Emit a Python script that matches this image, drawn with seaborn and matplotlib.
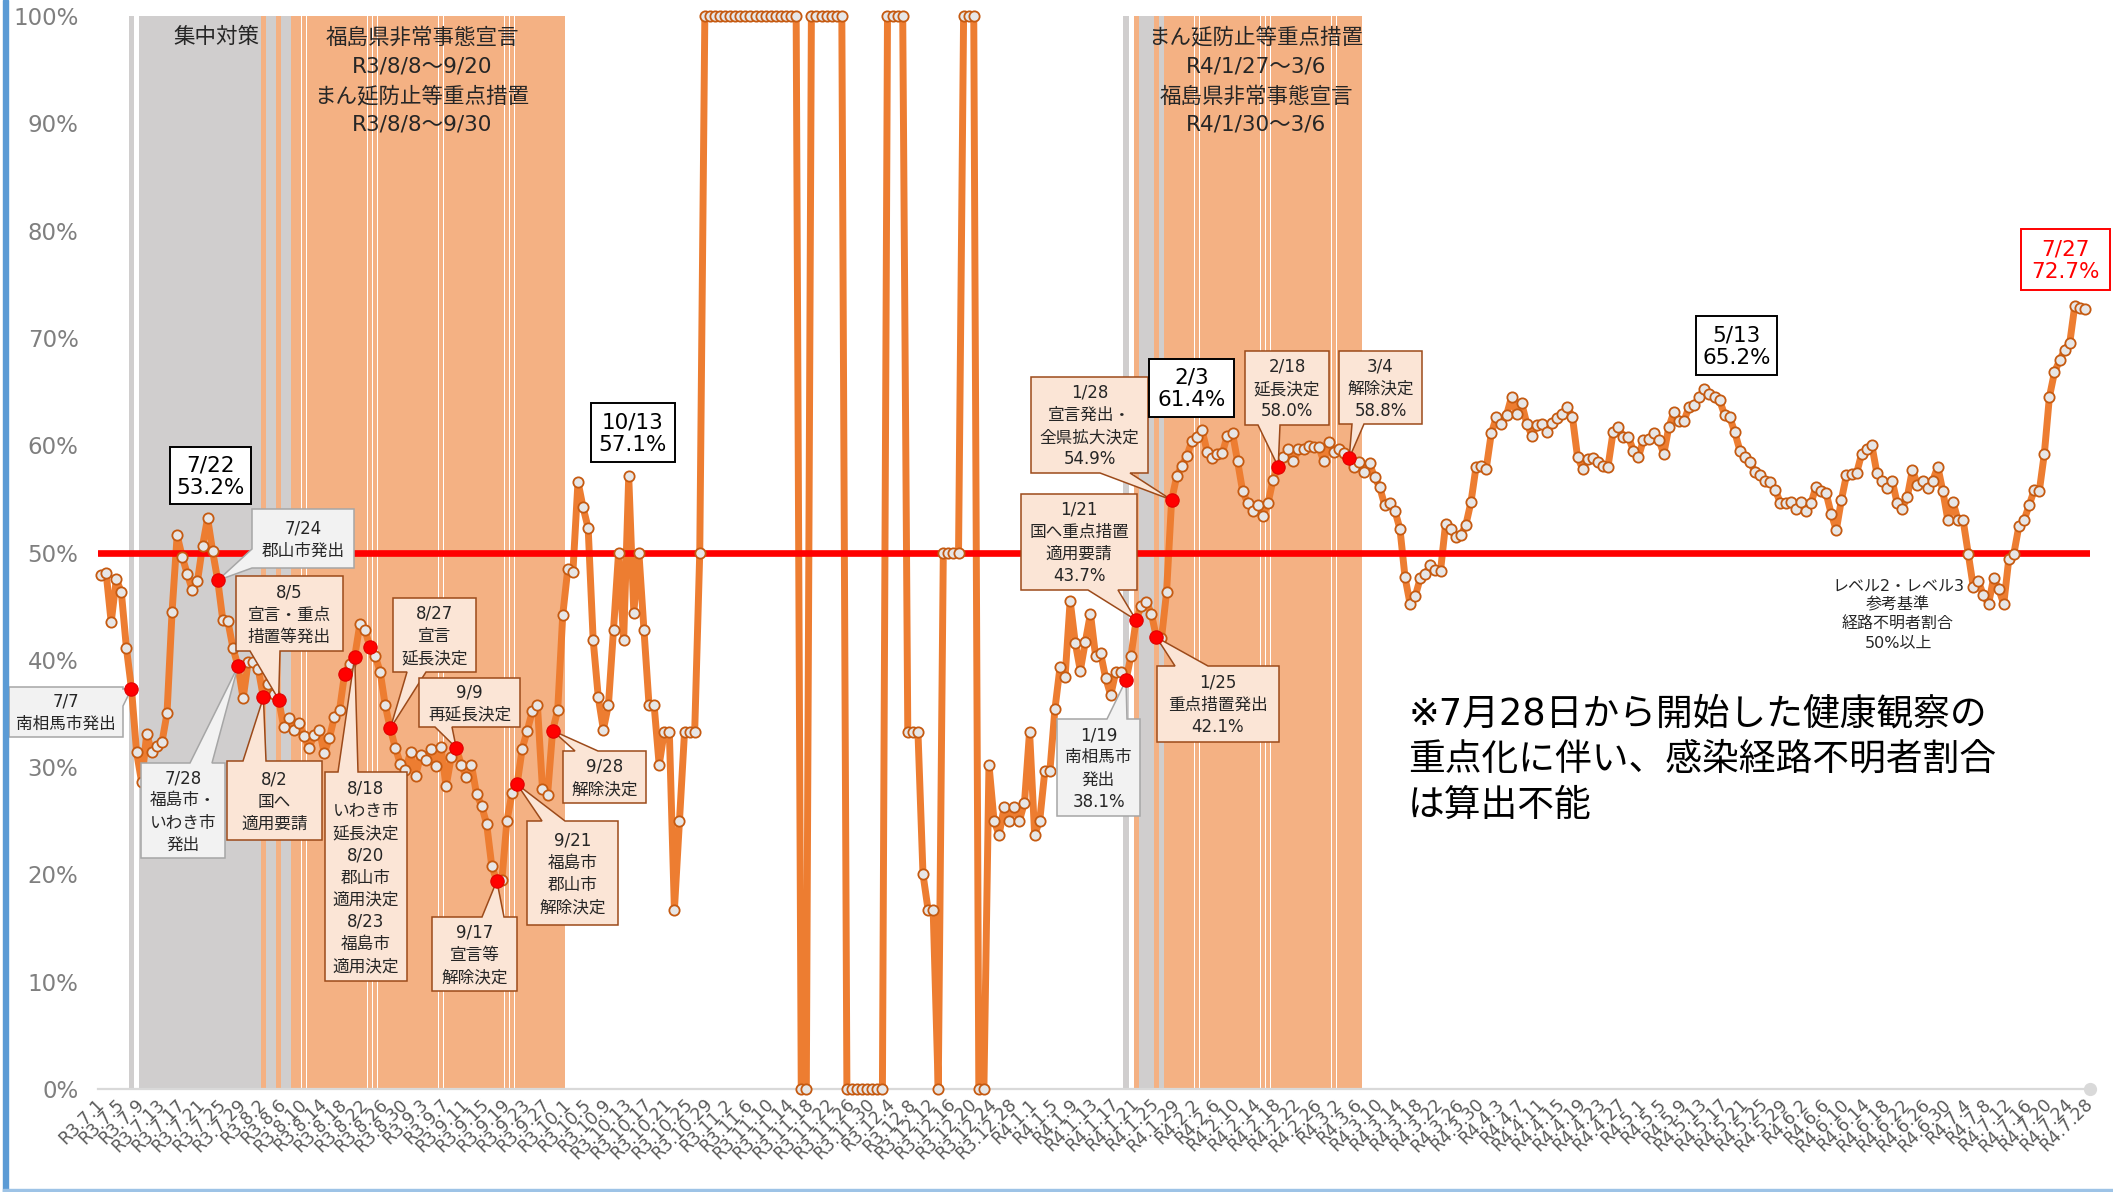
import numpy as np
import pandas as pd
import matplotlib
matplotlib.use("Agg")
import matplotlib.pyplot as plt
import seaborn as sns
from matplotlib.patches import Polygon, Rectangle
from matplotlib.transforms import Affine2D, IdentityTransform

# ---------------- data (percent, one value per day) ----------------
rate_2021_07 = [47.9, 48.1, 43.5, 47.5, 46.3, 41.1, 37.3, 31.4, 28.6, 33.1,
                31.4, 32.0, 32.3, 35.0, 44.5, 51.6, 49.6, 48.0, 46.5, 47.3,
                50.6, 53.2, 50.1, 47.4, 43.7, 43.6, 41.1, 39.4, 36.4, 39.8,
                39.8]
rate_2021_08 = [39.1, 36.5, 37.7, 36.8, 36.3, 33.75, 34.6, 33.5, 34.1, 32.9,
                31.8, 33.0, 33.5, 31.3, 32.7, 34.7, 35.3, 38.7, 39.6, 40.3,
                43.3, 42.8, 41.2, 40.4, 38.9, 35.8, 33.6, 31.8, 30.3, 29.7,
                31.4]
rate_2021_09 = [29.2, 31.1, 30.7, 31.7, 30.1, 31.9, 28.2, 30.9, 31.8, 30.2,
                29.1, 30.2, 27.5, 26.4, 24.7, 20.8, 19.4, 19.5, 25.0, 27.6,
                28.4, 31.7, 33.4, 35.2, 35.8, 28.0, 27.4, 33.4, 35.3, 44.2]
rate_2021_10 = [48.5, 48.2, 56.6, 54.2, 52.3, 41.8, 36.5, 33.5, 35.8, 42.8,
                50.0, 41.8, 57.1, 44.4, 50.0, 42.8, 35.8, 35.8, 30.2, 33.3,
                33.3, 16.7, 25.0, 33.3, 33.3, 33.3, 50.0, 100, 100, 100,
                100]
rate_2021_11 = [100, 100, 100, 100, 100, 100, 100, 100, 100, 100,
                100, 100, 100, 100, 100, 0, 0, 100, 100, 100,
                100, 100, 100, 100, 0, 0, 0, 0, 0, 0]
rate_2021_12 = [0, 0, 100, 100, 100, 100, 33.3, 33.3, 33.3, 20.0,
                16.7, 16.7, 0, 50, 50, 50, 50, 100, 100, 100,
                0, 0, 30.2, 25.0, 23.7, 26.3, 25.0, 26.3, 25.0, 26.7,
                33.3]
rate_2022_01 = [23.7, 25.0, 29.6, 29.6, 35.4, 39.3, 38.4, 45.5, 41.6, 39.0,
                41.7, 44.3, 40.4, 40.6, 38.3, 36.7, 38.9, 38.9, 38.1, 40.4,
                43.7, 45.0, 45.4, 44.3, 42.1, 42.0, 46.3, 54.9, 57.1, 58.1,
                59.0]
rate_2022_02 = [60.4, 60.8, 61.4, 59.4, 58.8, 59.2, 59.3, 60.9, 61.1, 58.5,
                55.7, 54.6, 53.9, 54.4, 53.4, 54.6, 56.8, 58.0, 58.9, 59.6,
                58.5, 59.6, 59.6, 59.9, 59.8, 59.8, 58.5, 60.3]
rate_2022_03 = [59.4, 59.6, 59.3, 58.8, 58.0, 58.4, 57.5, 58.3, 57.0, 56.1,
                54.4, 54.6, 53.9, 52.2, 47.7, 45.2, 45.9, 47.6, 48.0, 48.8,
                48.4, 48.3, 52.7, 52.2, 51.4, 51.6, 52.6, 54.7, 58.0, 58.1,
                57.8]
rate_2022_04 = [61.1, 62.6, 62.0, 62.8, 64.5, 62.9, 63.9, 62.0, 60.9, 61.9,
                62.0, 61.2, 62.1, 62.5, 62.9, 63.6, 62.6, 58.9, 57.8, 58.7,
                58.8, 58.4, 58.1, 58.0, 61.2, 61.7, 60.8, 60.8, 59.5, 58.9]
rate_2022_05 = [60.5, 60.6, 61.1, 60.5, 59.2, 61.7, 63.1, 62.3, 62.3, 63.6,
                63.7, 64.5, 65.2, 64.8, 64.5, 64.2, 62.8, 62.6, 61.2, 59.5,
                58.9, 58.4, 57.5, 57.2, 56.7, 56.6, 55.8, 54.6, 54.6, 54.7,
                54.1]
rate_2022_06 = [54.7, 53.9, 54.6, 56.1, 55.7, 55.5, 53.6, 52.1, 54.9, 57.2,
                57.3, 57.4, 59.2, 59.6, 60.0, 57.4, 56.7, 56.0, 56.7, 54.6,
                54.1, 55.2, 57.7, 56.3, 56.7, 56.0, 56.7, 58.0, 55.7, 53.0]
rate_2022_07 = [54.7, 53.0, 53.0, 49.9, 46.8, 47.3, 46.0, 45.2, 47.6, 46.6,
                45.2, 49.4, 49.9, 52.5, 53.0, 54.4, 55.8, 55.7, 59.2, 64.5,
                66.8, 67.9, 68.9, 69.5, 73.0, 72.8, 72.7]

start_date = "2021-07-01"
end_date = "2022-07-28"
threshold = 50

# shading periods (day columns)
focus_periods = [("2021-07-07", "2021-07-07"), ("2021-07-09", "2021-08-01"),
                 ("2021-08-03", "2021-08-04"), ("2021-08-06", "2021-08-07"),
                 ("2022-01-19", "2022-01-19"), ("2022-01-22", "2022-01-24"),
                 ("2022-01-26", "2022-01-26")]
measure_periods = [("2021-08-02", "2021-08-02"), ("2021-08-05", "2021-08-05"),
                   ("2021-08-08", "2021-09-30"), ("2022-01-21", "2022-01-21"),
                   ("2022-01-25", "2022-01-25"), ("2022-01-27", "2022-03-06")]

highlight_dates = ["2021-07-07", "2021-07-24", "2021-07-28", "2021-08-02", "2021-08-05",
                   "2021-08-18", "2021-08-20", "2021-08-23", "2021-08-27", "2021-09-09",
                   "2021-09-17", "2021-09-21", "2021-09-28", "2022-01-19", "2022-01-21",
                   "2022-01-25", "2022-01-28", "2022-02-18", "2022-03-04"]

# ---------------- setup ----------------
sns.set_theme(style="white")
plt.rcParams["font.family"] = ["DejaVu Sans", "Noto Sans CJK JP"]

W, H = 2113, 1192
fig = plt.figure(figsize=(W / 100, H / 100), dpi=100)
fig.patch.set_facecolor("white")
ax = fig.add_axes([98 / W, (H - 1089) / H, (2090 - 98) / W, (1089 - 16) / H])
ax.set_facecolor("white")

rate = np.array(rate_2021_07 + rate_2021_08 + rate_2021_09 + rate_2021_10 + rate_2021_11 +
                rate_2021_12 + rate_2022_01 + rate_2022_02 + rate_2022_03 + rate_2022_04 +
                rate_2022_05 + rate_2022_06 + rate_2022_07, dtype=float)
t0 = pd.Timestamp(start_date)
axis_dates = pd.date_range(start_date, end_date)
day = np.arange(len(rate))
df = pd.DataFrame({"day": day, "rate": rate})


def period_days(periods):
    out = []
    for s, e in periods:
        out += list(range((pd.Timestamp(s) - t0).days, (pd.Timestamp(e) - t0).days + 1))
    return np.array(out)


focus_idx = period_days(focus_periods)
measure_idx = period_days(measure_periods)
hl_idx = np.array([(pd.Timestamp(d) - t0).days for d in highlight_dates])

ax.set_xlim(-0.6, len(axis_dates) - 1)
ax.set_ylim(0, 100)
ax.autoscale(False)

# shading bars
ax.bar(focus_idx, 100, width=1.0, color="#D0CECE", linewidth=0, zorder=1)
ax.bar(measure_idx, 100, width=0.96, color="#F4B183", linewidth=0, zorder=1)

# main line
sns.lineplot(data=df, x="day", y="rate", ax=ax, color="#ED7D31", linewidth=5.0,
             errorbar=None, legend=False, zorder=2, clip_on=False)
ax.axhline(threshold, color="#FF0000", linewidth=4.8, zorder=3, solid_capstyle="round")
sns.scatterplot(data=df, x="day", y="rate", ax=ax, s=7.4 ** 2, color="#E7E6E6",
                edgecolor="#C55A11", linewidth=1.3, zorder=4, clip_on=False, legend=False)
sns.scatterplot(x=hl_idx, y=rate[hl_idx], ax=ax, s=9.6 ** 2, color="#FF0000",
                edgecolor="#E00000", linewidth=0.8, zorder=8, clip_on=False, legend=False)
ax.plot([ax.get_xlim()[1]], [0], "o", ms=8.5, color="#D9D9D9", clip_on=False, zorder=2)

ax.set_xlabel("")
ax.set_ylabel("")
for s in ["left", "top", "right"]:
    ax.spines[s].set_visible(False)
ax.spines["bottom"].set_color("#D9D9D9")
ax.spines["bottom"].set_linewidth(1.6)

tick_idx = np.arange(0, len(axis_dates), 4)
tick_labels = [f"R{d.year - 2018}.{d.month}.{d.day}" for d in axis_dates[tick_idx]]
ax.set_xticks(tick_idx)
ax.set_xticklabels(tick_labels, rotation=45, ha="right", va="center",
                   rotation_mode="anchor", fontsize=12.5, color="#595959")
ax.tick_params(axis="x", length=0, pad=9)
ax.set_yticks(np.arange(0, 101, 10))
ax.set_yticklabels([f"{v}%" for v in range(0, 101, 10)], fontsize=16.5, color="#7F7F7F")
ax.tick_params(axis="y", length=0, pad=14)
ax.grid(False)

# ---------------- annotations (pixel coordinates, top-down) ----------------
T = Affine2D().scale(1, -1).translate(0, H) + IdentityTransform()


def data_px(d):
    xd, yd = ax.transData.transform((d, rate[d]))
    return (xd, H - yd)


STYLES = {"gray": ("#F2F2F2", "#A6A6A6", "#262626"),
          "peach": ("#FBE5D6", "#9C4A1A", "#262626"),
          "white": ("#FFFFFF", "#000000", "#000000"),
          "red": ("#FFFFFF", "#FF0000", "#FF0000")}


def callout(text, box, style, ptr=None, fs=12, ls=1.3, lw=1.1):
    x0, y0, x1, y1 = box
    fc, ec, tc = STYLES[style]
    verts = [(x0, y0)]
    tip = data_px(ptr[3]) if ptr else None
    if ptr and ptr[0] == "top":
        verts += [(ptr[1], y0), tip, (ptr[2], y0)]
    verts.append((x1, y0))
    if ptr and ptr[0] == "right":
        verts += [(x1, ptr[1]), tip, (x1, ptr[2])]
    verts.append((x1, y1))
    if ptr and ptr[0] == "bottom":
        verts += [(ptr[2], y1), tip, (ptr[1], y1)]
    verts.append((x0, y1))
    if ptr and ptr[0] == "left":
        verts += [(x0, ptr[2]), tip, (x0, ptr[1])]
    poly = Polygon(verts, closed=True, transform=T, facecolor=fc, edgecolor=ec,
                   linewidth=lw, zorder=6, joinstyle="miter", clip_on=False)
    ax.add_patch(poly)
    ax.text((x0 + x1) / 2, (y0 + y1) / 2 + 1, text, transform=T, ha="center", va="center",
            fontsize=fs, linespacing=ls, color=tc, zorder=7, clip_on=False)


callouts = [
    ("7/7\n南相馬市発出", (9, 687, 123, 737), "gray", ("right", 689, 706, 6)),
    ("7/24\n郡山市発出", (252, 509, 354, 568), "gray", ("left", 549, 568, 23)),
    ("7/28\n福島市・\nいわき市\n発出", (141, 763, 225, 858), "gray", ("top", 190, 212, 27)),
    ("8/2\n国へ\n適用要請", (227, 761, 322, 840), "peach", ("top", 243, 266, 32)),
    ("8/5\n宣言・重点\n措置等発出", (236, 576, 343, 651), "peach", ("bottom", 250, 280, 35)),
    ("8/18\nいわき市\n延長決定\n8/20\n郡山市\n適用決定\n8/23\n福島市\n適用決定",
     (325, 772, 407, 981), "peach", ("top", 338, 358, 50)),
    ("8/27\n宣言\n延長決定", (393, 598, 476, 672), "peach", ("bottom", 407, 426, 57)),
    ("9/9\n再延長決定", (419, 678, 520, 727), "peach", ("bottom", 435, 452, 70)),
    ("9/17\n宣言等\n解除決定", (432, 917, 517, 991), "peach", ("top", 482, 504, 78)),
    ("9/21\n福島市\n郡山市\n解除決定", (527, 821, 618, 925), "peach", ("top", 542, 565, 82)),
    ("9/28\n解除決定", (563, 751, 646, 803), "peach", ("top", 575, 598, 89)),
    ("1/19\n南相馬市\n発出\n38.1%", (1057, 719, 1140, 816), "gray", ("top", 1107, 1127, 202)),
    ("1/21\n国へ重点措置\n適用要請\n43.7%", (1021, 494, 1137, 590), "peach", ("bottom", 1088, 1118, 204)),
    ("1/25\n重点措置発出\n42.1%", (1157, 666, 1279, 742), "peach", ("top", 1175, 1208, 208)),
    ("1/28\n宣言発出・\n全県拡大決定\n54.9%", (1031, 377, 1148, 473), "peach", ("bottom", 1100, 1130, 211)),
    ("2/18\n延長決定\n58.0%", (1245, 351, 1329, 425), "peach", ("bottom", 1258, 1280, 232)),
    ("3/4\n解除決定\n58.8%", (1339, 351, 1422, 424), "peach", ("bottom", 1352, 1364, 246)),
]
for text, box, style, ptr in callouts:
    callout(text, box, style, ptr, fs=12, ls=1.3)

value_boxes = [
    ("7/22\n53.2%", (170, 447, 251, 504), "white"),
    ("10/13\n57.1%", (591, 403, 675, 462), "white"),
    ("2/3\n61.4%", (1149, 359, 1234, 417), "white"),
    ("5/13\n65.2%", (1696, 316, 1777, 375), "white"),
    ("7/27\n72.7%", (2021, 229, 2110, 290), "red"),
]
for text, box, style in value_boxes:
    callout(text, box, style, None, fs=15.5, ls=1.15, lw=1.4)

region_labels = [
    ("集中対策", 216, 37),
    ("福島県非常事態宣言", 422, 37), ("R3/8/8～9/20", 422, 67),
    ("まん延防止等重点措置", 422, 96), ("R3/8/8～9/30", 422, 125),
    ("まん延防止等重点措置", 1256, 37), ("R4/1/27～3/6", 1256, 67),
    ("福島県非常事態宣言", 1256, 96), ("R4/1/30～3/6", 1256, 125),
]
for text, x, y in region_labels:
    ax.text(x, y, text, transform=T, ha="center", va="center", fontsize=15.5,
            color="#262626", zorder=7, clip_on=False)

ax.text(1898, 614, "レベル2・レベル3\n参考基準\n経路不明者割合\n50%以上", transform=T,
        ha="center", va="center", fontsize=11.5, linespacing=1.3, color="#262626",
        zorder=7, clip_on=False)

note_lines = ["※7月28日から開始した健康観察の", "重点化に伴い、感染経路不明者割合", "は算出不能"]
for i, line in enumerate(note_lines):
    ax.text(1408, 714 + 45.5 * i, line, transform=T, ha="left", va="center",
            fontsize=26.5, color="#000000", zorder=7, clip_on=False)

# frame decorations
fig.add_artist(Rectangle((3, 0), 5, H, transform=IdentityTransform(), color="#5B9BD5", zorder=10))
fig.add_artist(Rectangle((3, 0), W, 3, transform=IdentityTransform(), color="#9DC3E6", zorder=10))

fig.savefig("out.png", dpi=100)
